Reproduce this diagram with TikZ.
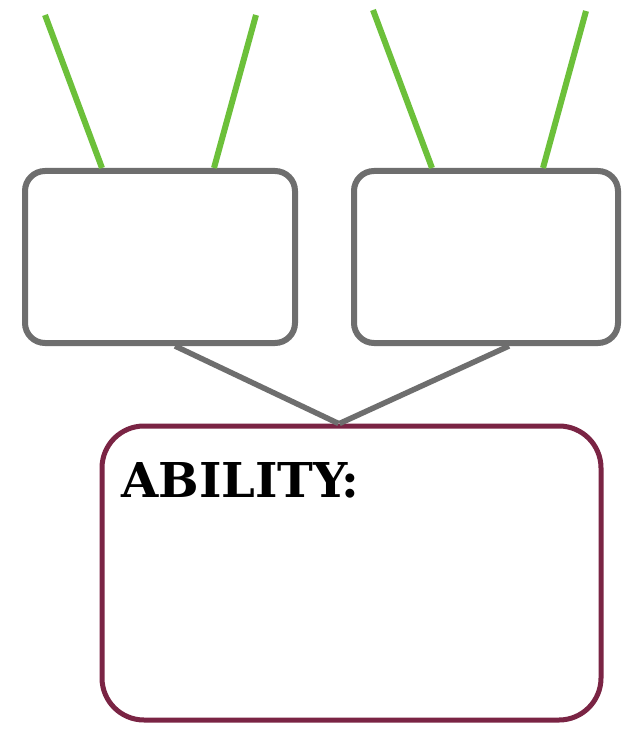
\documentclass[tikz,border=0pt]{standalone}
\usepackage{fontspec}
\newfontfamily\labelfont{DejaVu Serif}
\definecolor{boxgray}{HTML}{6E6E6E}
\definecolor{antgreen}{HTML}{6CC03A}
\definecolor{maroon}{HTML}{7A2444}
\begin{document}
\begin{tikzpicture}[x=1pt,y=-1pt,
  graybox/.style={draw=boxgray,line width=6pt,rounded corners=20pt,fill=white,inner sep=0pt},
  abilitybox/.style={draw=maroon,line width=5pt,rounded corners=42pt,fill=white,inner sep=0pt},
  antenna/.style={draw=antgreen,line width=6pt},
  joiner/.style={draw=boxgray,line width=5.5pt}]
\useasboundingbox[fill=white] (0,0) rectangle (623,730);
\node[abilitybox,minimum width=499pt,minimum height=294pt] (ab) at (351.5,573) {};
\node[graybox,minimum width=270pt,minimum height=172pt] (lb) at (160,257) {};
\node[graybox,minimum width=264pt,minimum height=172pt] (rb) at (486,257) {};
\coordinate (g1) at (45,15);
\coordinate (g2) at (256,15);
\coordinate (g3) at (373,10);
\coordinate (g4) at (586,11);
\draw[antenna] (g1) -- ([xshift=80pt]lb.north west);
\draw[antenna] (g2) -- ([xshift=-84pt]lb.north east);
\draw[antenna] (g3) -- ([xshift=81pt]rb.north west);
\draw[antenna] (g4) -- ([xshift=-78pt]rb.north east);
\draw[joiner] ([xshift=153pt]lb.south west) -- ([xshift=-13pt]ab.north);
\draw[joiner] ([xshift=-112pt]rb.south east) -- ([xshift=-12pt]ab.north);
\node[anchor=base west,inner sep=0pt,font=\labelfont\bfseries\fontsize{48}{52}\selectfont] (t) at (121,497) {ABILITY:};
\end{tikzpicture}
\end{document}
